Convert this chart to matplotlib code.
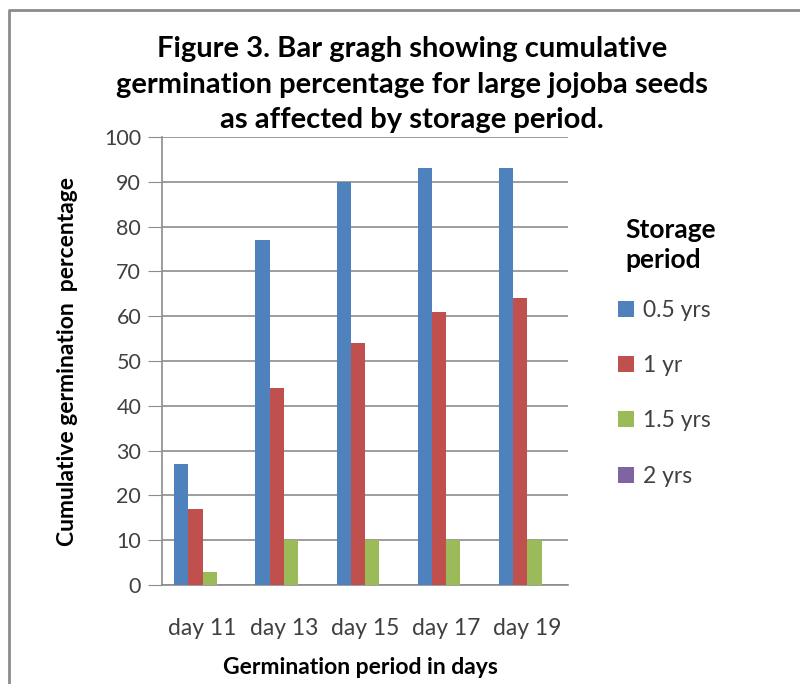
import numpy as np
import matplotlib.pyplot as plt
from matplotlib.lines import Line2D

plt.rcParams['font.family'] = ['Lato', 'DejaVu Sans']

days = ['day 11', 'day 13', 'day 15', 'day 17', 'day 19']
periods = ['0.5 yrs', '1 yr', '1.5 yrs', '2 yrs']
half_yr = [27, 77, 90, 93, 93]
one_yr = [17, 44, 54, 61, 64]
one_half_yr = [3, 10, 10, 10, 10]
two_yr = [0, 0, 0, 0, 0]
colors = ['#4F81BD', '#C0504D', '#9BBB59', '#8064A2']
title_lines = ['Figure 3. Bar gragh showing cumulative',
               'germination percentage for large jojoba seeds',
               'as affected by storage period.']

fig = plt.figure(figsize=(8, 6.84), dpi=100)
ax = fig.add_axes([0.2025, 0.1447, 0.5075, 0.655])

x = np.arange(len(days))
w = 0.175
series = [half_yr, one_yr, one_half_yr, two_yr]
for i, (vals, lab, c) in enumerate(zip(series, periods, colors)):
    ax.bar(x + (i - 1.5) * w, vals, w, color=c, label=lab, zorder=3)

ax.set_xlim(-0.5, len(days) - 0.5)
ax.set_ylim(0, 100)
ax.set_yticks(range(0, 101, 10))
ax.set_xticks(x)
ax.set_xticklabels(days)
ax.grid(axis='y', color='#8c8c8c', lw=1.2, zorder=0)
for s in ['top', 'right']:
    ax.spines[s].set_visible(False)
ax.spines['left'].set_color('#8c8c8c')
ax.spines['bottom'].set_color('#8c8c8c')
ax.spines['left'].set_linewidth(1.2)
ax.spines['bottom'].set_linewidth(1.2)
ax.tick_params(axis='y', length=10, color='#8c8c8c', labelsize=15.5, labelcolor='#404040', pad=5)
ax.tick_params(axis='x', length=0, labelsize=16.5, labelcolor='#404040', pad=24)

ax.set_ylabel('Cumulative germination  percentage', fontsize=16.5, fontweight='bold', labelpad=19)
fig.text(0.45, 1 - 668 / 684, 'Germination period in days', ha='center', va='center',
         fontsize=16.5, fontweight='bold')

# title, one text per line so the box does not run over the "100" label
for k, line in enumerate(title_lines):
    fig.text(0.515, 1 - (57 + 35.5 * k) / 684, line, ha='center', va='baseline',
             fontsize=21, fontweight='bold')

fig.text(625 / 800, 1 - 245 / 684, 'Storage\nperiod', ha='left', va='center',
         fontsize=19, fontweight='bold', linespacing=1.3)

leg = ax.legend(loc='upper left', bbox_to_anchor=(597 / 800, 1 - 279 / 684),
                bbox_transform=fig.transFigure,
                frameon=False, fontsize=16.5, labelspacing=1.5, handlelength=0.7,
                handleheight=0.7, handletextpad=0.4)
for t in leg.get_texts():
    t.set_color('#404040')

# outer chart frame (only top and left edges visible in the crop)
fig.add_artist(Line2D([0.011, 0.011, 1.0], [0.0, 0.985, 0.985],
                      transform=fig.transFigure, color='#8c8c8c', lw=2))

fig.savefig('out.png', dpi=100)
